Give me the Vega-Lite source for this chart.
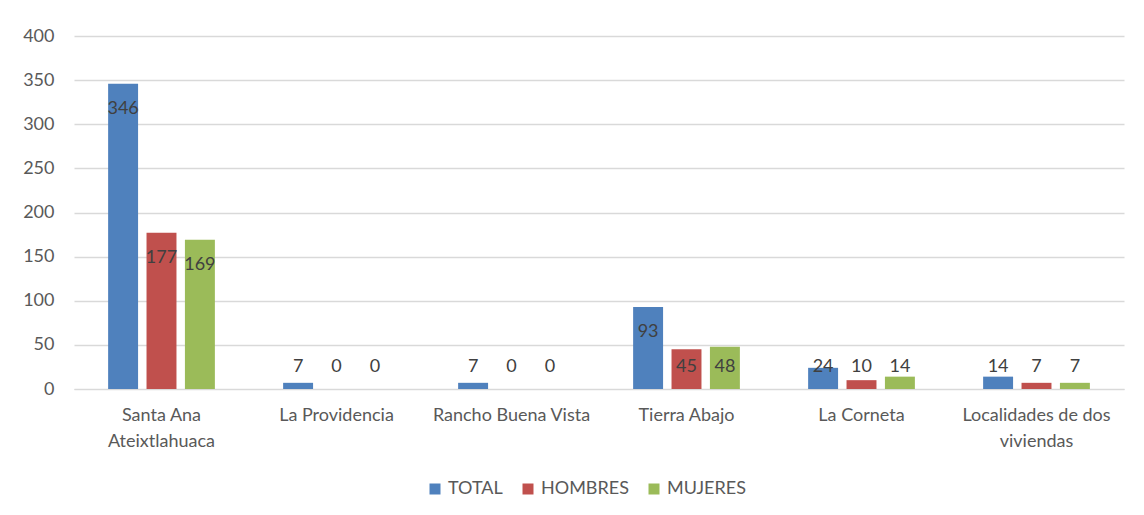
{
  "$schema": "https://vega.github.io/schema/vega-lite/v6.json",
  "autosize": {"type": "none"},
  "width": 1050,
  "height": 353,
  "padding": {"left": 74, "top": 36, "right": 20, "bottom": 126},
  "background": "white",
  "config": {
    "font": "Lato",
    "view": {"stroke": null},
    "axis": {"labelFont": "Lato", "labelFontSize": 18, "labelColor": "#595959"}
  },
  "data": {
    "values": [
      {"localidad": "Santa Ana Ateixtlahuaca", "serie": "TOTAL", "valor": 346},
      {"localidad": "Santa Ana Ateixtlahuaca", "serie": "HOMBRES", "valor": 177},
      {"localidad": "Santa Ana Ateixtlahuaca", "serie": "MUJERES", "valor": 169},
      {"localidad": "La Providencia", "serie": "TOTAL", "valor": 7},
      {"localidad": "La Providencia", "serie": "HOMBRES", "valor": 0},
      {"localidad": "La Providencia", "serie": "MUJERES", "valor": 0},
      {"localidad": "Rancho Buena Vista", "serie": "TOTAL", "valor": 7},
      {"localidad": "Rancho Buena Vista", "serie": "HOMBRES", "valor": 0},
      {"localidad": "Rancho Buena Vista", "serie": "MUJERES", "valor": 0},
      {"localidad": "Tierra Abajo", "serie": "TOTAL", "valor": 93},
      {"localidad": "Tierra Abajo", "serie": "HOMBRES", "valor": 45},
      {"localidad": "Tierra Abajo", "serie": "MUJERES", "valor": 48},
      {"localidad": "La Corneta", "serie": "TOTAL", "valor": 24},
      {"localidad": "La Corneta", "serie": "HOMBRES", "valor": 10},
      {"localidad": "La Corneta", "serie": "MUJERES", "valor": 14},
      {"localidad": "Localidades de dos viviendas", "serie": "TOTAL", "valor": 14},
      {"localidad": "Localidades de dos viviendas", "serie": "HOMBRES", "valor": 7},
      {"localidad": "Localidades de dos viviendas", "serie": "MUJERES", "valor": 7}
    ]
  },
  "encoding": {
    "x": {
      "field": "localidad",
      "type": "nominal",
      "sort": null,
      "title": null,
      "scale": {"paddingInner": 0.39, "paddingOuter": 0.195},
      "axis": {
        "labelAngle": 0,
        "ticks": false,
        "domain": true,
        "domainColor": "#d9d9d9",
        "labelPadding": 17,
        "labelLineHeight": 26,
        "labelExpr": "datum.value == 'Santa Ana Ateixtlahuaca' ? ['Santa Ana', 'Ateixtlahuaca'] : datum.value == 'Localidades de dos viviendas' ? ['Localidades de dos', 'viviendas'] : datum.value"
      }
    },
    "xOffset": {
      "field": "serie",
      "type": "nominal",
      "sort": ["TOTAL", "HOMBRES", "MUJERES"],
      "scale": {"paddingInner": 0.22, "paddingOuter": 0}
    }
  },
  "layer": [
    {
      "mark": {"type": "bar"},
      "encoding": {
        "y": {
          "field": "valor",
          "type": "quantitative",
          "title": null,
          "scale": {"domain": [0, 400]},
          "axis": {
            "values": [0, 50, 100, 150, 200, 250, 300, 350, 400],
            "ticks": false,
            "domain": false,
            "gridColor": "#d9d9d9",
            "gridWidth": 1.3,
            "labelPadding": 20
          }
        },
        "color": {
          "field": "serie",
          "type": "nominal",
          "sort": ["TOTAL", "HOMBRES", "MUJERES"],
          "title": null,
          "scale": {"domain": ["TOTAL", "HOMBRES", "MUJERES"], "range": ["#4f81bd", "#c0504d", "#9bbb59"]},
          "legend": {
            "orient": "none",
            "direction": "horizontal",
            "legendX": 352,
            "legendY": 444,
            "symbolType": "square",
            "symbolSize": 121,
            "symbolStrokeWidth": 0,
            "labelFont": "Lato",
            "labelFontSize": 18,
            "labelColor": "#595959",
            "labelOffset": 4,
            "columnPadding": 16
          }
        }
      }
    },
    {
      "transform": [{"calculate": "max(datum.valor, 53)", "as": "posEtiqueta"}],
      "mark": {"type": "text", "dy": 25, "fontSize": 18, "color": "#404040", "baseline": "middle", "font": "Lato"},
      "encoding": {
        "y": {"field": "posEtiqueta", "type": "quantitative"},
        "text": {"field": "valor", "type": "quantitative"}
      }
    }
  ]
}
